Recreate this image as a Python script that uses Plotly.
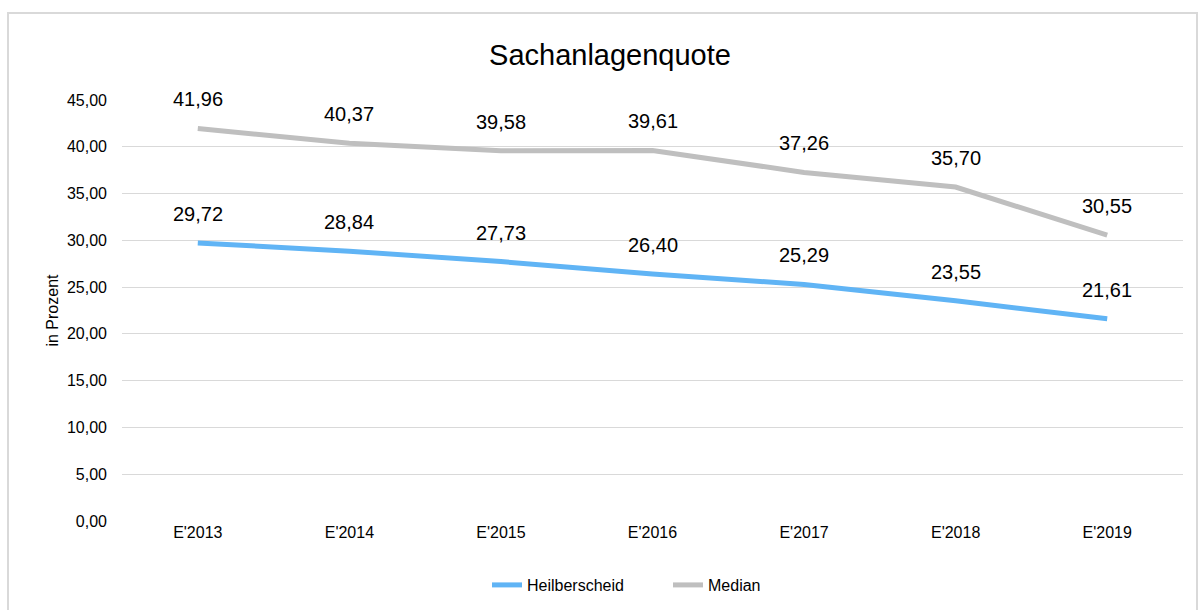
import plotly.graph_objects as go

categories = ["E'2013", "E'2014", "E'2015", "E'2016", "E'2017", "E'2018", "E'2019"]
heilberscheid = [29.72, 28.84, 27.73, 26.40, 25.29, 23.55, 21.61]
median = [41.96, 40.37, 39.58, 39.61, 37.26, 35.70, 30.55]
y_ticks = [0, 5, 10, 15, 20, 25, 30, 35, 40, 45]

BLUE = "#60B4F5"
GRAY = "#BFBFBF"
FONT = "Liberation Sans, Arial, sans-serif"

def fmt(v):
    return f"{v:.2f}".replace(".", ",")

fig = go.Figure()
fig.add_trace(go.Scatter(x=categories, y=heilberscheid, mode="lines", name="Heilberscheid",
                         line=dict(color=BLUE, width=5)))
fig.add_trace(go.Scatter(x=categories, y=median, mode="lines", name="Median",
                         line=dict(color=GRAY, width=5)))

annotations = []
for series in (heilberscheid, median):
    for c, v in zip(categories, series):
        annotations.append(dict(x=c, y=v, xref="x", yref="y", text=fmt(v), showarrow=False,
                                yanchor="middle", yshift=29,
                                font=dict(family=FONT, size=20, color="#000000")))

W, H = 1198, 610
L, R, T, B = 122, 15, 100, 89
pw = W - L - R
ph = H - T - B

def px2paper_x(px):
    return (px - L) / pw

def py2paper_y(py):
    return (H - B - py) / ph

fig.update_layout(
    width=W, height=H,
    margin=dict(l=L, r=R, t=T, b=B, autoexpand=False),
    paper_bgcolor="white", plot_bgcolor="white",
    font=dict(family=FONT, size=16, color="#000000"),
    title=dict(text="Sachanlagenquote", x=610 / W, xanchor="center",
               y=1 - 55 / H, yanchor="middle",
               font=dict(family=FONT, size=29, color="#000000")),
    xaxis=dict(type="category", range=[-0.5, 6.5], showgrid=False, showline=False,
               ticks="", tickfont=dict(size=16), zeroline=False),
    yaxis=dict(range=[0, 45], tickvals=y_ticks, ticktext=[fmt(v) for v in y_ticks],
               showgrid=True, gridcolor="#D9D9D9", gridwidth=1, zeroline=False,
               showline=False, ticks="", ticklabelstandoff=14, tickfont=dict(size=16),
               title=dict(text="in Prozent", font=dict(size=16), standoff=4)),
    legend=dict(orientation="h", x=px2paper_x(668), xanchor="center", y=py2paper_y(585),
                yanchor="middle", font=dict(size=16), tracegroupgap=0, entrywidth=136),
    annotations=annotations,
    shapes=[dict(type="rect", xref="paper", yref="paper",
                 x0=px2paper_x(8), x1=px2paper_x(1197), y0=py2paper_y(640), y1=py2paper_y(13),
                 line=dict(color="#D9D9D9", width=2), layer="below")],
)

fig.write_html("out.html", config={"displayModeBar": False},
               post_script="document.body.style.margin='0';")
